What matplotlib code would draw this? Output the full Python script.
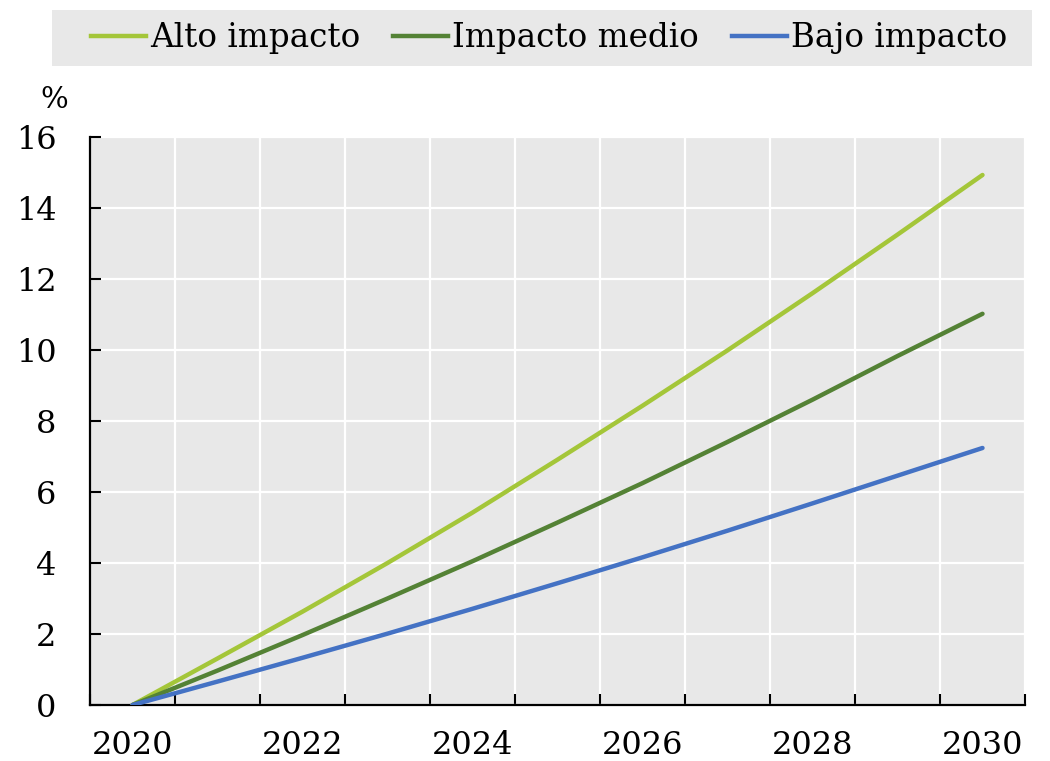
import numpy as np
import matplotlib.pyplot as plt
from matplotlib.patches import Rectangle
from matplotlib.lines import Line2D

# -----------------------------
# Data
# -----------------------------
years = [2020, 2021, 2022, 2023, 2024, 2025, 2026, 2027, 2028, 2029, 2030]
alto = [0, 1.31, 2.63, 4.00, 5.42, 6.91, 8.43, 9.99, 11.60, 13.25, 14.93]
medio = [0, 0.97, 1.97, 3.00, 4.05, 5.14, 6.25, 7.41, 8.60, 9.83, 11.02]
bajo = [0, 0.66, 1.33, 2.01, 2.71, 3.43, 4.16, 4.91, 5.68, 6.46, 7.24]
labels = ["Alto impacto", "Impacto medio", "Bajo impacto"]
colors = ["#A4C639", "#548235", "#4472C4"]

plt.rcParams['font.family'] = ['DejaVu Serif']
plt.rcParams['xtick.direction'] = 'in'
plt.rcParams['ytick.direction'] = 'in'

fig = plt.figure(figsize=(10.5, 7.61), dpi=100)
ax = fig.add_axes([90 / 1050, 1 - 705 / 761, 935 / 1050, 568 / 761])
ax.set_facecolor('#E8E8E8')
ax.set_axisbelow(True)

x = np.arange(len(years))
for series, c in zip([alto, medio, bajo], colors):
    ax.plot(x, series, color=c, lw=3.2, solid_capstyle='round', zorder=3)

ax.set_xlim(-0.5, len(years) - 0.5)
ax.set_ylim(0, 16)

# category boundaries carry the ticks and the vertical grid
ax.set_xticks(np.arange(-0.5, len(years), 1.0))
ax.set_xticklabels([])
ax.set_xticks(x[::2], minor=True)
ax.set_xticklabels([str(y) for y in years[::2]], minor=True)
ax.set_yticks(np.arange(0, 17, 2))

ax.tick_params(axis='both', which='major', direction='in', length=8, width=1.5,
               labelsize=23, color='black')
ax.tick_params(axis='x', which='minor', length=0, labelsize=23, pad=18)
ax.tick_params(axis='y', which='major', pad=24)

ax.grid(True, which='major', color='white', lw=1.6)

for s in ['top', 'right']:
    ax.spines[s].set_visible(False)
for s in ['left', 'bottom']:
    ax.spines[s].set_linewidth(1.6)
    ax.spines[s].set_color('black')

fig.text(54 / 1050, 1 - 100 / 761, "%", fontsize=21, ha='center', va='center')

# legend on a grey band
fig.patches.append(Rectangle((52 / 1050, 1 - 66 / 761), 980 / 1050, 56 / 761,
                             transform=fig.transFigure, facecolor='#E8E8E8',
                             edgecolor='none', zorder=0))
handles = [Line2D([0], [0], color=c, lw=3.2) for c in colors]
fig.legend(handles, labels, loc='center', bbox_to_anchor=(549 / 1050, 1 - 38 / 761),
           ncol=3, frameon=False, fontsize=23.5, handlelength=1.7, handletextpad=0.12,
           columnspacing=1.0, borderaxespad=0)

fig.savefig("out.png", dpi=100)
